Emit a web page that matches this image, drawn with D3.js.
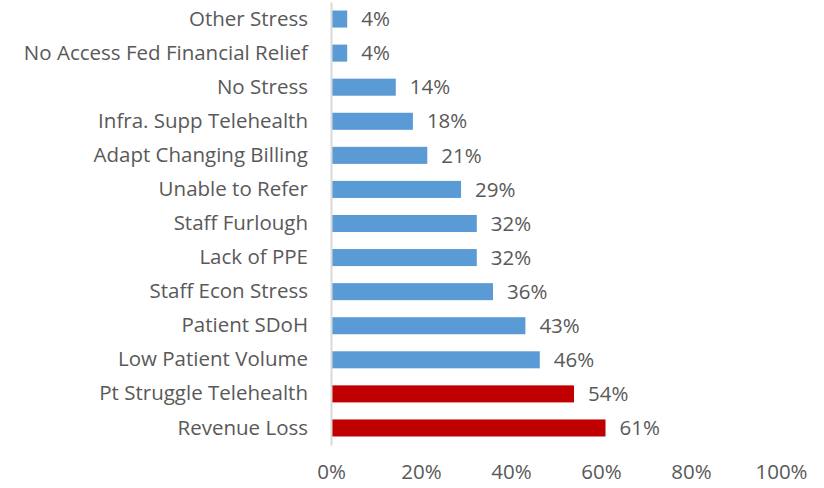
<!DOCTYPE html>
<html lang="en">
<head>
    <meta charset="UTF-8">
    <title>Stressors</title>
    <style>
        body { margin: 0; background: #fff; }
        text { font-family: "Open Sans", sans-serif; fill: #595959; }
    </style>
</head>
<body>
    <script src="https://d3js.org/d3.v7.min.js"></script>
    <div id="chart"></div>
    <script>
        // data, top to bottom
        const categories = ["Other Stress", "No Access Fed Financial Relief", "No Stress", "Infra. Supp Telehealth",
            "Adapt Changing Billing", "Unable to Refer", "Staff Furlough", "Lack of PPE", "Staff Econ Stress",
            "Patient SDoH", "Low Patient Volume", "Pt Struggle Telehealth", "Revenue Loss"];
        const values = [0.036, 0.036, 0.144, 0.182, 0.214, 0.289, 0.324, 0.324, 0.36, 0.432, 0.464, 0.54, 0.61];
        const highlighted = ["Pt Struggle Telehealth", "Revenue Loss"];
        const xTicks = [0, 0.2, 0.4, 0.6, 0.8, 1];

        const width = 824, height = 488;
        const margin = { top: 2, right: 43, bottom: 43, left: 331 };
        const fontSize = "20.5px";

        const svg = d3.select("#chart").append("svg")
            .attr("width", width)
            .attr("height", height);

        const x = d3.scaleLinear().domain([0, 1]).range([margin.left, width - margin.right]);
        const y = d3.scaleBand().domain(categories).range([margin.top, height - margin.bottom])
            .paddingInner(0.5).paddingOuter(0.25);

        const fmt = d3.format(".0%");

        // bars
        svg.append("g")
            .selectAll("rect")
            .data(categories)
            .join("rect")
            .attr("x", x(0))
            .attr("y", d => y(d))
            .attr("width", (d, i) => x(values[i]) - x(0))
            .attr("height", y.bandwidth())
            .attr("fill", d => highlighted.includes(d) ? "#c00000" : "#5b9bd5");

        // value labels
        svg.append("g")
            .selectAll("text")
            .data(categories)
            .join("text")
            .attr("x", (d, i) => x(values[i]) + 14)
            .attr("y", d => y(d) + y.bandwidth() / 2)
            .attr("dy", "0.35em")
            .style("font-size", fontSize)
            .text((d, i) => fmt(values[i]));

        // y axis (category labels)
        const yAxis = svg.append("g")
            .attr("transform", `translate(${x(0)},0)`)
            .call(d3.axisLeft(y).tickSize(0).tickPadding(23));
        yAxis.select(".domain").attr("stroke", "#d9d9d9").attr("stroke-width", 2);
        yAxis.selectAll("text").style("font-size", fontSize).attr("fill", "#595959");

        // x axis (labels only)
        const xAxis = svg.append("g")
            .attr("transform", `translate(0,${height - margin.bottom})`)
            .call(d3.axisBottom(x).tickValues(xTicks).tickFormat(fmt).tickSize(0).tickPadding(19));
        xAxis.select(".domain").remove();
        xAxis.selectAll("text").style("font-size", fontSize).attr("fill", "#595959");
    </script>
</body>
</html>
